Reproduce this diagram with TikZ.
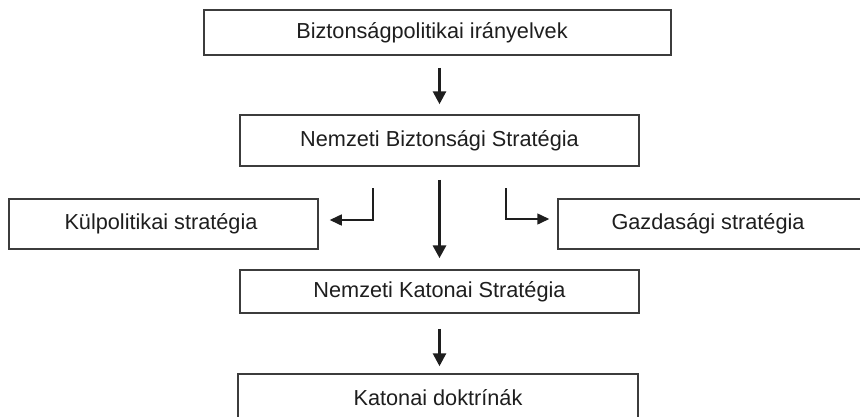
\documentclass[tikz,border=0pt]{standalone}
\usepackage{fontspec}
\setmainfont{Liberation Sans}
\usetikzlibrary{arrows.meta}
\definecolor{boxline}{HTML}{3C3C3C}
\definecolor{ink}{HTML}{1E1E1E}
\begin{document}
\begin{tikzpicture}[x=1pt,y=-1pt,
  box/.style={draw=boxline, line width=1.5pt, rectangle, inner sep=0pt,
    text=ink, font=\fontsize{21.7}{26}\selectfont},
  flow/.style={draw=ink, line width=2.8pt,
    -{Triangle[length=13pt,width=13pt]}},
  flowwide/.style={flow, line width=3.2pt},
  branch/.style={draw=ink, line width=1.5pt,
    -{Triangle[length=12pt,width=11pt]}}]
  \useasboundingbox (0,0) rectangle (860,416);
  \clip (0,0) rectangle (860,416);
  \fill[white] (0,0) rectangle (860,416);

  % hierarchy boxes (the trailing space nudges a label left of the box centre)
  \node[box, minimum width=467pt, minimum height=45pt] (policy) at (437.5,32.5)
    {Biztonságpolitikai irányelvek\hspace*{11pt}};
  \node[box, minimum width=399pt, minimum height=51pt] (nbs) at (439.5,140.5)
    {Nemzeti Biztonsági Stratégia};
  \node[box, minimum width=309pt, minimum height=50pt] (foreign) at (163.5,224)
    {Külpolitikai stratégia\hspace*{5pt}};
  \node[box, minimum width=312pt, minimum height=50pt] (econ) at (714,224)
    {Gazdasági stratégia\hspace*{12pt}};
  \node[box, minimum width=399pt, minimum height=43pt] (nks) at (439.5,291.5)
    {Nemzeti Katonai Stratégia};
  \node[box, minimum width=400pt, minimum height=48pt] (doct) at (438,398)
    {Katonai doktrínák};

  % main downward flow
  \draw[flow, shorten <=12pt, shorten >=10pt] (policy.south -| nbs.north) -- (nbs.north);
  \draw[flowwide, shorten <=13pt, shorten >=11pt] (nbs.south) -- (nks.north);
  \draw[flow, shorten <=15pt, shorten >=7pt] (nks.south) -- (nks.south |- doct.north);

  % side branches
  \coordinate (lstart) at (373,188);
  \coordinate (rstart) at (506,188);
  \draw[branch, shorten >=11pt] (lstart) |- ([yshift=4pt]foreign.east);
  \draw[branch, shorten >=8pt] (rstart) |- ([yshift=5pt]econ.west);
\end{tikzpicture}
\end{document}
